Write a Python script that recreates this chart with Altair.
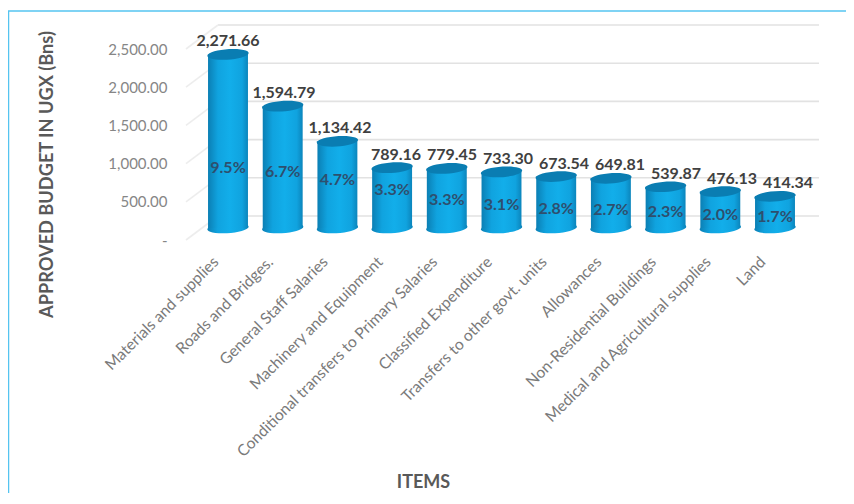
import altair as alt
import pandas as pd

items = ["Materials and supplies", "Roads and Bridges.", "General Staff Salaries",
         "Machinery and Equipment", "Conditional transfers to Primary Salaries",
         "Classified Expenditure", "Transfers to  other govt. units", "Allowances",
         "Non-Residential Buildings", "Medical and Agricultural supplies", "Land"]
budget = [2271.66, 1594.79, 1134.42, 789.16, 779.45, 733.30, 673.54, 649.81, 539.87, 476.13, 414.34]
share = ["9.5%", "6.7%", "4.7%", "3.3%", "3.3%", "3.1%", "2.8%", "2.7%", "2.3%", "2.0%", "1.7%"]
share_height = [785, 733, 628, 497, 366, 301, 249, 236, 209, 170, 144]
ticks = [0, 500, 1000, 1500, 2000, 2500]

df = pd.DataFrame({"item": items, "budget": budget, "share": share, "share_height": share_height})
df_ticks = pd.DataFrame({"tick": ticks})
frame = pd.DataFrame({"k": [0]})

FONT = "Lato"
W = 838
H = 485
y_scale = alt.Scale(domain=[0, 2500], range=[232, 41], nice=False, zero=False)
x_bar = alt.Scale(type="band", domain=items, range=[192.65, 794.35], paddingInner=0.27, paddingOuter=0.135)
x_txt = alt.Scale(type="band", domain=items, range=[192, 808], paddingInner=0, paddingOuter=0)
BASE = -12
side = alt.Gradient(gradient="linear", x1=0, x2=1, y1=0, y2=0, stops=[
    alt.GradientStop(color="#0B7FB4", offset=0),
    alt.GradientStop(color="#10A3DF", offset=0.25),
    alt.GradientStop(color="#12AEEA", offset=0.55),
    alt.GradientStop(color="#10A3DF", offset=0.85),
    alt.GradientStop(color="#0B85BC", offset=1)])
ELLIPSE = "M-1,0A1,0.25,-4,1,1,1,0A1,0.25,-4,1,1,-1,0Z"

base = alt.Chart(df)

wall = alt.Chart(df_ticks).mark_rule(color="#E2E2E2", strokeWidth=1.6, yOffset=-24).encode(
    x=alt.value(210), x2=alt.value(811),
    y=alt.Y("tick:Q", scale=y_scale, axis=alt.Axis(
        values=ticks, domain=False, ticks=False, grid=False, offset=-159, labelPadding=0,
        labelFont=FONT, labelFontSize=15, labelColor="#868686",
        labelExpr="datum.value == 0 ? '-' : format(datum.value, ',.2f')",
        title="APPROVED BUDGET IN UGX (Bns)", titleFont=FONT, titleFontSize=18.2, titleFontWeight="bold",
        titleColor="#595959", titleX=-120, titleY=166, titleAlign="center", titleBaseline="middle")))

diag = alt.Chart(df_ticks).mark_rule(color="#EDEDED", strokeWidth=1.6, y2Offset=-24).encode(
    x=alt.value(178), x2=alt.value(210),
    y=alt.Y("tick:Q", scale=y_scale, axis=None), y2="tick:Q")

bottom = base.mark_point(shape=ELLIPSE, filled=True, opacity=1, size=1600, fill=side, strokeWidth=0, yOffset=BASE).encode(
    x=alt.X("item:N", scale=x_bar, axis=None),
    y=alt.datum(0, scale=y_scale, axis=None))

body = base.mark_bar(fill=side, yOffset=BASE, y2Offset=BASE).encode(
    x=alt.X("item:N", scale=x_bar, sort=None, axis=alt.Axis(
        labelAngle=-45, labelAlign="right", labelBaseline="middle", labelOffset=-12,
        labelPadding=13, domain=False, ticks=False, grid=False, offset=238 - H,
        labelFont=FONT, labelFontSize=15.7, labelColor="#7A7A7A", labelLimit=400,
        title="ITEMS", titleFont=FONT, titleFontSize=18, titleFontWeight="bold", titleColor="#595959",
        titleX=415, titleY=236, titleAlign="center", titleBaseline="middle")),
    y=alt.Y("budget:Q", scale=y_scale, axis=None),
    y2=alt.datum(0))

top = base.mark_point(shape=ELLIPSE, filled=True, opacity=1, size=1600, color="#0A7DB2", strokeWidth=0, yOffset=BASE).encode(
    x=alt.X("item:N", scale=x_bar, axis=None),
    y=alt.Y("budget:Q", scale=y_scale, axis=None))

pct = base.mark_text(font=FONT, fontSize=16, fontWeight="bold", color="#2E4F6E", yOffset=BASE).encode(
    x=alt.X("item:N", scale=x_bar, axis=None),
    y=alt.Y("share_height:Q", scale=y_scale, axis=None),
    text="share:N")

vals = base.mark_text(font=FONT, fontSize=16, fontWeight="bold", color="#404040", yOffset=-25).encode(
    x=alt.X("item:N", scale=x_txt, axis=None),
    y=alt.Y("budget:Q", scale=y_scale, axis=None),
    text=alt.Text("budget:Q", format=",.2f"))

line_top = alt.Chart(frame).mark_rule(color="#55C4F0", strokeWidth=1.5).encode(
    x=alt.value(0), x2=alt.value(W), y=alt.value(3))
line_left = alt.Chart(frame).mark_rule(color="#55C4F0", strokeWidth=1.5).encode(
    x=alt.value(0.5), y=alt.value(3), y2=alt.value(H))

chart = alt.layer(line_top, line_left, wall, diag, bottom, body, top, pct, vals).resolve_scale(
    x="independent"
).resolve_axis(y="independent").properties(
    width=W, height=H, padding=0,
    autosize=alt.AutoSizeParams(type="none"), background="white"
).configure_view(stroke=None)

chart.save("out.html", embed_options={"renderer": "svg", "actions": False})
